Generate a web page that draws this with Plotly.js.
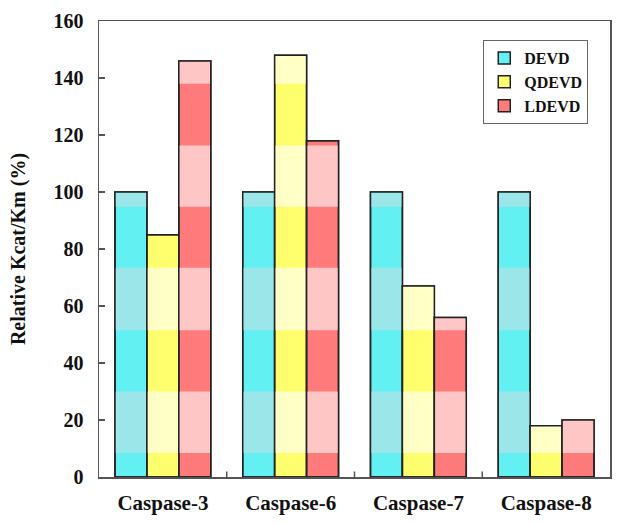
<!DOCTYPE html>
<html>
<head>
<meta charset="utf-8">
<script src="https://cdn.plot.ly/plotly-3.0.1.min.js"></script>
<style>html,body{margin:0;padding:0;background:#fff;}#chart{width:621px;height:524px;}</style>
</head>
<body>
<div id="chart"></div>
<script>
const categories = ["Caspase-3", "Caspase-6", "Caspase-7", "Caspase-8"];
const seriesNames = ["DEVD", "QDEVD", "LDEVD"];
const devd  = [100, 100, 100, 100];
const qdevd = [85, 148, 67, 18];
const ldevd = [146, 118, 56, 20];
const yTicks = [0, 20, 40, 60, 80, 100, 120, 140, 160];

// image shading bands (light stripes) seen in the original figure
const lightBands = [[8.4, 30], [51.5, 73.4], [94.8, 116.3], [138, 160]];

const darkColors  = ["#62F0F2", "#FFFF6E", "#FF7A7A"];
const lightColors = ["#9AE6E9", "#FFFFC6", "#FFC6C6"];
const values = [devd, qdevd, ldevd];

const font = "'Liberation Serif', 'Times New Roman', serif";
const traces = [];

values.forEach((vals, i) => {
  traces.push({
    type: "bar", x: categories, y: vals, name: seriesNames[i],
    offsetgroup: seriesNames[i], legendgroup: seriesNames[i],
    marker: {color: darkColors[i], line: {color: "#222", width: 1.5}},
    hoverinfo: "x+y+name"
  });
  lightBands.forEach(b => {
    const h = vals.map(v => Math.max(0, Math.min(v, b[1]) - b[0]));
    traces.push({
      type: "bar", x: categories, y: h, base: b[0], showlegend: false,
      offsetgroup: seriesNames[i], legendgroup: seriesNames[i], hoverinfo: "skip",
      marker: {color: lightColors[i], line: {width: 0}}
    });
  });
  traces.push({
    type: "bar", x: categories, y: vals, showlegend: false,
    offsetgroup: seriesNames[i], legendgroup: seriesNames[i], hoverinfo: "skip",
    marker: {color: "rgba(0,0,0,0)", line: {color: "#222", width: 1.5}}
  });
});

const layout = {
  width: 621, height: 524,
  margin: {l: 99, r: 11, t: 21, b: 47},
  paper_bgcolor: "#fff", plot_bgcolor: "#fff",
  barmode: "group", bargap: 0.25, bargroupgap: 0,
  showlegend: true,
  legend: {
    x: 0.752, y: 0.958, xanchor: "left", yanchor: "top",
    bgcolor: "#fff", bordercolor: "#666", borderwidth: 1,
    font: {family: font, size: 16, color: "#111", weight: "bold"},
    traceorder: "grouped", tracegroupgap: 0, itemwidth: 30
  },
  xaxis: {
    type: "category", showgrid: false, showline: true, linecolor: "#555", linewidth: 1.5,
    mirror: true, ticks: "", tickfont: {family: font, size: 21, color: "#111", weight: "bold"},
    ticklabelstandoff: 6
  },
  yaxis: {
    range: [0, 160], tickvals: yTicks, ticktext: yTicks.map(String),
    showgrid: false, zeroline: false, showline: true, linecolor: "#555", linewidth: 1.5,
    mirror: true, ticks: "inside", ticklen: 6, tickcolor: "#555", tickwidth: 1.5,
    tickfont: {family: font, size: 20, color: "#111", weight: "bold"},
    ticklabelstandoff: 10,
    title: {text: "Relative Kcat/Km (%)", font: {family: font, size: 20, color: "#111", weight: "bold"}, standoff: 22}
  },
  shapes: [1, 2, 3].map(k => ({
    type: "line", xref: "x", yref: "paper", x0: k - 0.5, x1: k - 0.5, y0: 0, y1: 0.012,
    line: {color: "#555", width: 1.5}
  }))
};

Plotly.newPlot("chart", traces, layout, {displayModeBar: false, staticPlot: true});
</script>
</body>
</html>
